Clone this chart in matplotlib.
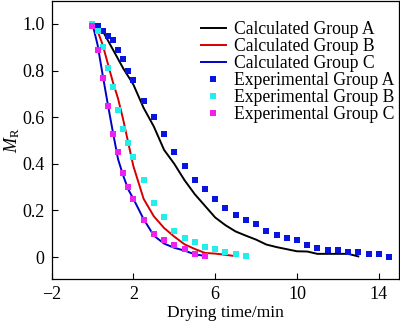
import matplotlib
matplotlib.use("Agg")
import matplotlib.pyplot as plt

plt.rcParams['font.family'] = ['Liberation Serif', 'DejaVu Serif']
plt.rcParams['mathtext.fontset'] = 'custom'
plt.rcParams['mathtext.rm'] = 'Liberation Serif'
plt.rcParams['mathtext.it'] = 'Liberation Serif:italic'

# experimental data
t_exp_a = [0, 0.25, 0.5, 0.75, 1.0, 1.25, 1.5, 1.75, 2.0, 2.5, 3.0, 3.5, 4.0, 4.5,
           5.0, 5.5, 6.0, 6.5, 7.0, 7.5, 8.0, 8.5, 9.0, 9.5, 10.0, 10.5, 11.0,
           11.5, 12.0, 12.5, 13.0, 13.5, 14.0, 14.5]
mr_exp_a = [1.0, 0.99, 0.97, 0.95, 0.93, 0.89, 0.85, 0.80, 0.76, 0.67, 0.60, 0.53,
            0.45, 0.39, 0.33, 0.29, 0.25, 0.21, 0.18, 0.16, 0.14, 0.11, 0.093,
            0.081, 0.073, 0.051, 0.041, 0.031, 0.031, 0.023, 0.023, 0.013, 0.013, 0.001]

t_exp_b = [0, 0.25, 0.5, 0.75, 1.0, 1.25, 1.5, 1.75, 2.0, 2.5, 3.0, 3.5, 4.0, 4.5,
           5.0, 5.5, 6.0, 6.5, 7.0, 7.5]
mr_exp_b = [1.0, 0.97, 0.90, 0.81, 0.73, 0.63, 0.55, 0.49, 0.43, 0.33, 0.23, 0.17,
            0.11, 0.08, 0.065, 0.044, 0.035, 0.024, 0.014, 0.004]

t_exp_c = [0, 0.25, 0.5, 0.75, 1.0, 1.25, 1.5, 1.75, 2.0, 2.5, 3.0, 3.5, 4.0, 4.5,
           5.0, 5.5]
mr_exp_c = [0.99, 0.89, 0.77, 0.65, 0.53, 0.45, 0.36, 0.30, 0.25, 0.16, 0.10, 0.072,
            0.051, 0.034, 0.013, 0.004]

# calculated curves
t_calc_a = [0.25, 0.5, 1.0, 1.5, 2.0, 2.5, 3.0, 3.5, 4.0, 4.5, 5.0, 5.5, 6.0, 6.5,
            7.0, 7.5, 8.0, 8.5, 9.0, 9.5, 10.0, 10.5, 11.0, 11.5, 12.0, 12.5, 13.0]
mr_calc_a = [0.985, 0.97, 0.89, 0.81, 0.74, 0.64, 0.56, 0.46, 0.40, 0.33, 0.27, 0.22,
             0.17, 0.137, 0.11, 0.092, 0.075, 0.054, 0.043, 0.034, 0.025, 0.024,
             0.014, 0.014, 0.014, 0.014, 0.003]

t_calc_b = [0, 0.25, 0.5, 0.75, 1.0, 1.25, 1.5, 1.75, 2.0, 2.5, 3.0, 3.5, 4.0, 4.5,
            5.0, 5.5, 6.0, 6.5, 7.0]
mr_calc_b = [1.0, 0.97, 0.91, 0.83, 0.75, 0.68, 0.59, 0.49, 0.39, 0.25, 0.175, 0.125,
             0.088, 0.055, 0.035, 0.018, 0.015, 0.010, 0.004]

t_calc_c = [0, 0.25, 0.5, 0.75, 1.0, 1.25, 1.5, 1.75, 2.0, 2.5, 3.0, 3.5, 4.0, 4.5,
            5.0, 5.5]
mr_calc_c = [1.0, 0.91, 0.78, 0.655, 0.535, 0.42, 0.35, 0.29, 0.25, 0.163, 0.092,
             0.058, 0.040, 0.028, 0.012, 0.005]

x_ticks = [-2, 2, 6, 10, 14]
y_ticks = [0, 0.2, 0.4, 0.6, 0.8, 1.0]
y_labels = ['0', '0.2', '0.4', '0.6', '0.8', '1.0']

fig = plt.figure(figsize=(4.0, 3.27), dpi=100)
ax = fig.add_axes([0.129, 0.146, 0.869, 0.852])

ax.plot(t_calc_a, mr_calc_a, color='black', lw=1.4, label='Calculated Group A')
ax.plot(t_calc_b, mr_calc_b, color='#d40000', lw=1.4, label='Calculated Group B')
ax.plot(t_calc_c, mr_calc_c, color='#0000c8', lw=1.4, label='Calculated Group C')
ax.plot(t_exp_a, mr_exp_a, 's', color='#0a14e0', ms=4.3, mew=0, label='Experimental Group A')
ax.plot(t_exp_b, mr_exp_b, 's', color='#22eeee', ms=4.3, mew=0, label='Experimental Group B')
ax.plot(t_exp_c, mr_exp_c, 's', color='#ee22ee', ms=4.3, mew=0, label='Experimental Group C')

ax.set_xlim(-2, 15)
ax.set_ylim(-0.095, 1.1)
ax.set_xticks(x_ticks)
ax.set_yticks(y_ticks)
ax.set_yticklabels(y_labels)
ax.tick_params(direction='in', length=4, width=0.8, labelsize=13, pad=5)
for s in ax.spines.values():
    s.set_linewidth(0.9)

ax.set_xlabel('Drying time/min', fontsize=12.5, labelpad=1)
ax.set_ylabel(r'$M_\mathrm{R}$', fontsize=13, labelpad=0)

leg = ax.legend(loc='upper right', frameon=False, fontsize=12.7, handlelength=1.4,
                handletextpad=0.5, labelspacing=0.0, borderaxespad=0.2,
                bbox_to_anchor=(1.018, 0.965))

fig.savefig('out.png', dpi=100)
